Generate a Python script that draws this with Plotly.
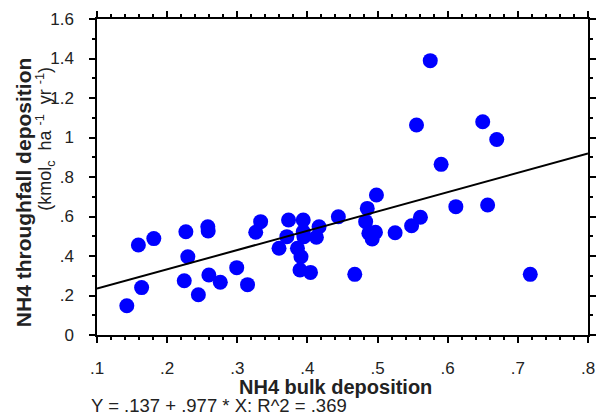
import plotly.graph_objects as go

# Data
bulk = [0.1425, 0.159, 0.181, 0.1636, 0.2267, 0.2295, 0.2244, 0.2445, 0.258, 0.2585,
        0.2595, 0.2758, 0.2992, 0.3146, 0.3333, 0.3263, 0.3595, 0.3731, 0.3707, 0.394,
        0.3858, 0.3908, 0.3894, 0.4044, 0.394, 0.395, 0.4128, 0.4166, 0.4441,
        0.5751, 0.5555, 0.6499, 0.6699, 0.5906, 0.4984, 0.4853, 0.483, 0.497, 0.4876,
        0.4923, 0.525, 0.5485, 0.5611, 0.6116, 0.6569, 0.4675, 0.7177]
throughfall = [0.148, 0.456, 0.488, 0.24, 0.523, 0.396, 0.275, 0.204, 0.548, 0.527,
               0.304, 0.267, 0.341, 0.255, 0.574, 0.52, 0.439, 0.582, 0.498, 0.582,
               0.439, 0.396, 0.329, 0.317, 0.523, 0.498, 0.495, 0.548, 0.599,
               1.389, 1.063, 1.08, 0.99, 0.864, 0.709, 0.641, 0.574, 0.52, 0.515,
               0.486, 0.518, 0.553, 0.596, 0.65, 0.658, 0.307, 0.307]

intercept = 0.137
slope = 0.977
r2 = 0.369
fit_x = [0.1, 0.8]

x_tickvals = [0.1, 0.2, 0.3, 0.4, 0.5, 0.6, 0.7, 0.8]
x_ticktext = [".1", ".2", ".3", ".4", ".5", ".6", ".7", ".8"]
y_tickvals = [0, 0.2, 0.4, 0.6, 0.8, 1.0, 1.2, 1.4, 1.6]
y_ticktext = ["0", ".2", ".4", ".6", ".8", "1", "1.2", "1.4", "1.6"]

FONT = "Liberation Sans, Arial, sans-serif"
TXT = "#222"

fig = go.Figure()
fig.add_trace(go.Scatter(
    x=bulk, y=throughfall, mode="markers",
    marker=dict(color="#0000FF", size=15, line=dict(width=0)),
    showlegend=False, cliponaxis=False))
fig.add_trace(go.Scatter(
    x=fit_x, y=[intercept + slope * v for v in fit_x], mode="lines",
    line=dict(color="black", width=2), showlegend=False))

axis_common = dict(
    showgrid=False, zeroline=False, showline=True, linecolor="black", linewidth=1.5,
    mirror="ticks", ticks="outside", ticklen=6, tickwidth=1.5, tickcolor="black",
    tickfont=dict(family=FONT, size=17, color=TXT),
)

fig.update_xaxes(range=[0.1, 0.8], tickvals=x_tickvals, ticktext=x_ticktext,
                 minor=dict(dtick=0.02, ticks="outside", ticklen=3, tickwidth=1.5, tickcolor="black"),
                 ticklabelstandoff=11, **axis_common)
fig.update_yaxes(range=[0, 1.6], tickvals=y_tickvals, ticktext=y_ticktext,
                 minor=dict(dtick=0.1, ticks="outside", ticklen=3, tickwidth=1.5, tickcolor="black"),
                 ticklabelstandoff=12, **axis_common)

L, R, T, B = 97, 7, 19, 82
W, H = 603, 417
pw, ph = W - L - R, H - T - B

def px(xp):
    return (xp - L) / pw

def py(yp):
    return (H - B - yp) / ph

eq = f"Y = {str(intercept)[1:]} + {str(slope)[1:]} * X: R^2 = {str(r2)[1:]}"

fig.update_layout(
    width=W, height=H, margin=dict(l=L, r=R, t=T, b=B),
    plot_bgcolor="white", paper_bgcolor="white",
    font=dict(family=FONT, color=TXT),
    annotations=[
        dict(text="<b>NH4 bulk deposition</b>", xref="paper", yref="paper",
             x=px(339), y=py(387), xanchor="center", yanchor="middle", showarrow=False,
             font=dict(size=20, family=FONT, color=TXT)),
        dict(text=eq, xref="paper", yref="paper",
             x=px(89), y=py(405), xanchor="left", yanchor="middle", showarrow=False,
             font=dict(size=18.5, family=FONT, color=TXT)),
        dict(text="<b>NH4 throughfall deposition</b>", xref="paper", yref="paper",
             x=px(22), y=py(193), xanchor="center", yanchor="middle", textangle=-90,
             showarrow=False, font=dict(size=21, family=FONT, color=TXT)),
        dict(text="(kmol<sub>c</sub>&nbsp;&nbsp;ha&nbsp;<sup>-1</sup>&nbsp;&nbsp;yr&nbsp;<sup>-1</sup>)",
             xref="paper", yref="paper",
             x=px(44), y=py(139), xanchor="center", yanchor="middle", textangle=-90,
             showarrow=False, font=dict(size=18, family=FONT, color=TXT)),
    ],
)

fig.write_html("out.html")
